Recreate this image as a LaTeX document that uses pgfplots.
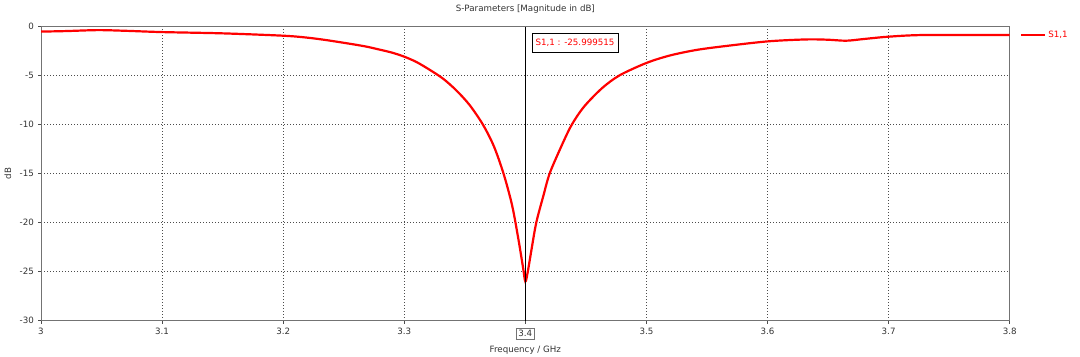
\documentclass[border=0pt]{standalone}
\usepackage{fontspec}
\setmainfont{DejaVu Sans}
\usepackage{pgfplots}
\pgfplotsset{compat=1.18}
\newcommand\lbl{\fontsize{8.7}{10}\selectfont}
\begin{document}
\lbl
\begin{tikzpicture}
\begin{axis}[name=ax, scale only axis, width=968.7pt, height=294pt,
  xmin=3, xmax=3.8, ymin=-30, ymax=0,
  xtick={3,3.1,3.2,3.3,3.4,3.5,3.6,3.7,3.8},
  xticklabels={3,3.1,3.2,3.3,{\setlength\fboxsep{2.2pt}\fcolorbox{black!55}{white}{3.4}},3.5,3.6,3.7,3.8},
  ytick={-30,-25,-20,-15,-10,-5,0},
  yticklabels={-30,-25,-20,-15,-10,-5,0},
  xtick pos=bottom, ytick pos=left,
  grid=major, major grid style={dash pattern=on 1pt off 2pt, black!70, line width=0.6pt},
  tick align=outside, major tick length=3pt, tick style={black!70, line width=0.6pt},
  axis line style={black!55, line width=0.8pt},
  ticklabel style={font=\lbl, text=black!80},
  xticklabel style={yshift=-1pt},
  yticklabel style={xshift=-1pt},
  legend style={at={(axis description cs:1.0106,0.972)}, anchor=west, draw=none, fill=none, inner sep=0pt, font=\lbl, text=red},
  legend cell align=left,
  legend image code/.code={\draw[#1] (0pt,0pt) -- (24pt,0pt);},
]
\addplot[red, line width=2.2pt, smooth, tension=0.5] coordinates {
(3.000,-0.50) (3.020,-0.45) (3.047,-0.35) (3.070,-0.42) (3.100,-0.55)
(3.150,-0.68) (3.200,-0.92) (3.220,-1.12) (3.239,-1.43) (3.266,-1.97)
(3.280,-2.35) (3.290,-2.65) (3.300,-3.06) (3.310,-3.60) (3.321,-4.40)
(3.332,-5.30) (3.343,-6.50) (3.354,-8.00) (3.365,-10.0) (3.374,-12.2)
(3.382,-15.0) (3.389,-18.2) (3.394,-21.5) (3.398,-24.5) (3.400,-26.0)
(3.402,-25.0) (3.405,-22.8) (3.409,-20.0) (3.415,-17.2) (3.420,-15.0)
(3.429,-12.4) (3.437,-10.3) (3.444,-8.90) (3.451,-7.80) (3.464,-6.20) (3.478,-4.95)
(3.500,-3.70) (3.519,-2.95) (3.540,-2.40) (3.561,-2.04) (3.600,-1.50)
(3.632,-1.30) (3.650,-1.33) (3.665,-1.43) (3.680,-1.25) (3.700,-1.02)
(3.729,-0.85) (3.800,-0.85)
};
\addlegendentry{S1,1}
\addplot[black, line width=1.2pt, forget plot] coordinates {(3.4,-30) (3.4,0)};
\node[draw=black, fill=white, text=red, anchor=north west, inner xsep=3.5pt, inner ysep=5.5pt, line width=0.8pt, font=\lbl] at (axis cs:3.4052,-0.67) {S1,1 : -25.999515};
\end{axis}
\node[font=\lbl, text=black!80] at ([yshift=17.7pt]ax.north) {S-Parameters [Magnitude in dB]};
\node[font=\lbl, text=black!80] at ([yshift=-29pt]ax.south) {Frequency / GHz};
\node[font=\lbl, text=black!80, rotate=90] at ([xshift=-33pt]ax.west) {dB};
\pgfresetboundingbox
\path[use as bounding box] ([shift={(-41pt,-36.3pt)}]ax.south west) rectangle ([shift={(70.3pt,26.7pt)}]ax.north east);
\end{tikzpicture}
\end{document}
